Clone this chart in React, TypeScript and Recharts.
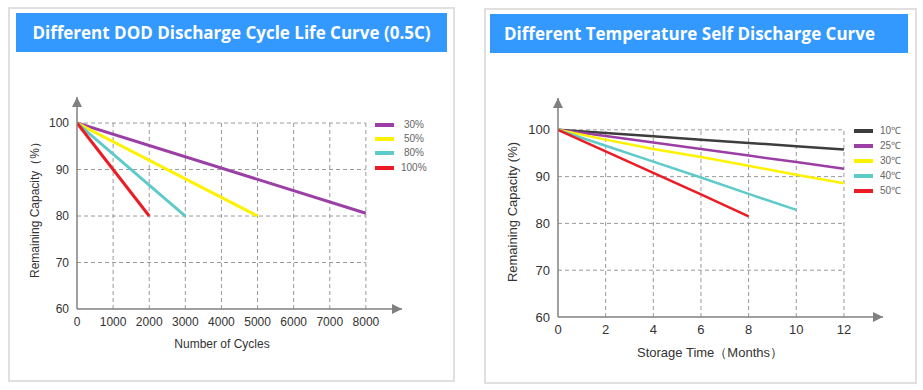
import React from 'react';
import { LineChart, Line, XAxis, YAxis, ReferenceLine, ReferenceDot } from 'recharts';

// left chart: cycle life by depth of discharge
const dodLabels = ['30%', '50%', '80%', '100%'];
const dodColors = ['#9b3fa6', '#fff200', '#5fcaca', '#ec1c24'];
const dodEndCycles = [8000, 5000, 3000, 2000];
const dodEndCapacity = [80.6, 80, 80, 80];
const cycleTicks = [0, 1000, 2000, 3000, 4000, 5000, 6000, 7000, 8000];
const capacityTicks = [60, 70, 80, 90, 100];

// right chart: self discharge by temperature
const tempLabels = ['10℃', '25℃', '30℃', '40℃', '50℃'];
const tempColors = ['#3d3d3d', '#9b3fa6', '#fff200', '#5fcaca', '#ec1c24'];
const months = [0, 2, 4, 6, 8, 10, 12];
const temp10 = [100, 99.3, 98.6, 97.9, 97.2, 96.5, 95.8];
const temp25 = [100, 98.7, 97.3, 95.9, 94.5, 93.1, 91.7];
const temp30 = [100, 97.9, 95.9, 94.2, 92.3, 90.4, 88.6];
const temp40 = [100, 96.6, 93.2, 89.8, 86.3, 82.9];
const temp50 = [100, 95.4, 90.8, 86.2, 81.5];
const monthTicks = [0, 2, 4, 6, 8, 10, 12];

const START_CAPACITY = 100;

const dodSeries = dodLabels.map((name, i) => ({
  name,
  color: dodColors[i],
  data: [
    { x: 0, y: START_CAPACITY },
    { x: dodEndCycles[i], y: dodEndCapacity[i] },
  ],
}));

const tempSeries = [temp10, temp25, temp30, temp40, temp50].map((vals, i) => ({
  name: tempLabels[i],
  color: tempColors[i],
  data: vals.map((y, j) => ({ x: months[j], y })),
}));

const AXIS = '#808080';
const GRID = '#9a9a9a';
const FONT = '"Liberation Sans", Arial, sans-serif';
const tickStyle = { fontSize: 12, fill: '#333', fontFamily: FONT };

const ArrowRight = (p: any) => (
  <path d={`M${p.cx},${p.cy} L${p.cx - 10},${p.cy - 5} L${p.cx - 10},${p.cy + 5} Z`} fill={AXIS} />
);
const ArrowUp = (p: any) => (
  <path d={`M${p.cx},${p.cy} L${p.cx - 5},${p.cy + 10} L${p.cx + 5},${p.cy + 10} Z`} fill={AXIS} />
);

function gridLines(xTicks: number[], yTicks: number[], xMax: number, yMin: number, yMax: number) {
  const out: React.ReactNode[] = [];
  yTicks
    .filter((v) => v > yMin)
    .forEach((v) =>
      out.push(
        <ReferenceLine
          key={'h' + v}
          segment={[{ x: 0, y: v }, { x: xMax, y: v }]}
          stroke={GRID}
          strokeDasharray="4 3"
        />
      )
    );
  xTicks
    .filter((v) => v > 0)
    .forEach((v) =>
      out.push(
        <ReferenceLine
          key={'v' + v}
          segment={[{ x: v, y: yMin }, { x: v, y: yMax }]}
          stroke={GRID}
          strokeDasharray="4 3"
        />
      )
    );
  return out;
}

function Legend({ items, left, top, gap, textAlign }: any) {
  return (
    <div style={{ position: 'absolute', left, top }}>
      {items.map((s: any, i: number) => (
        <div key={s.name} style={{ position: 'absolute', top: i * gap, left: 0, width: 60, height: 14 }}>
          <div style={{ position: 'absolute', left: 0, top: 5, width: 19, height: 4, background: s.color }} />
          <div
            style={{
              position: 'absolute',
              left: 26,
              top: 0,
              width: textAlign === 'right' ? 23 : 40,
              textAlign,
              fontSize: 10,
              lineHeight: '14px',
              color: '#666',
            }}
          >
            {s.name}
          </div>
        </div>
      ))}
    </div>
  );
}

const panel: React.CSSProperties = {
  position: 'absolute',
  border: '2px solid #e0e0e0',
  boxSizing: 'border-box',
  background: '#fff',
};
const header: React.CSSProperties = {
  position: 'absolute',
  height: 39,
  background: '#3399ff',
  color: '#fff',
  fontWeight: 700,
  fontSize: 17,
  lineHeight: '39px',
  fontFamily: '"Open Sans", sans-serif',
  whiteSpace: 'nowrap',
};
const axisTitle: React.CSSProperties = {
  position: 'absolute',
  fontSize: 12,
  color: '#333',
  whiteSpace: 'nowrap',
};

export default function App() {
  return (
    <div style={{ position: 'absolute', left: 0, top: 0, width: 923, height: 390, background: '#fff', fontFamily: FONT }}>
      <div style={{ ...panel, left: 8, top: 7, width: 447, height: 375 }} />
      <div style={{ ...panel, left: 484, top: 8, width: 433, height: 376 }} />
      <div style={{ ...header, left: 16, top: 13, width: 431, textAlign: 'center' }}>
        Different DOD Discharge Cycle Life Curve (0.5C)
      </div>
      <div style={{ ...header, left: 490, top: 14, width: 404, paddingLeft: 14 }}>
        Different Temperature Self Discharge Curve
      </div>

      <div style={{ position: 'absolute', left: 0, top: 0 }}>
        <LineChart width={460} height={390} margin={{ top: 97, right: 58, bottom: 51, left: 37 }}>
          <XAxis
            dataKey="x"
            type="number"
            domain={[0, 9000]}
            ticks={cycleTicks}
            allowDataOverflow
            height={30}
            tickLine={false}
            axisLine={{ stroke: AXIS, strokeWidth: 1.5 }}
            tick={tickStyle}
            interval={0}
          />
          <YAxis
            type="number"
            domain={[60, 105.6]}
            ticks={capacityTicks}
            allowDataOverflow
            width={40}
            tickLine={false}
            axisLine={{ stroke: AXIS, strokeWidth: 1.5 }}
            tick={tickStyle}
            interval={0}
          />
          {gridLines(cycleTicks, capacityTicks, 8000, 60, 100)}
          {dodSeries.map((s) => (
            <Line
              key={s.name}
              data={s.data}
              dataKey="y"
              name={s.name}
              stroke={s.color}
              strokeWidth={3}
              dot={false}
              type="linear"
              isAnimationActive={false}
            />
          ))}
          <ReferenceDot x={9000} y={60} r={0} ifOverflow="visible" shape={ArrowRight} />
          <ReferenceDot x={0} y={105.6} r={0} ifOverflow="visible" shape={ArrowUp} />
        </LineChart>
      </div>

      <div style={{ position: 'absolute', left: 460, top: 0 }}>
        <LineChart width={463} height={390} margin={{ top: 98, right: 40, bottom: 43, left: 58 }}>
          <XAxis
            dataKey="x"
            type="number"
            domain={[0, 13.64]}
            ticks={monthTicks}
            allowDataOverflow
            height={30}
            tickLine={false}
            axisLine={{ stroke: AXIS, strokeWidth: 1.5 }}
            tick={{ ...tickStyle, fontSize: 13 }}
            interval={0}
          />
          <YAxis
            type="number"
            domain={[60, 106.8]}
            ticks={capacityTicks}
            allowDataOverflow
            width={40}
            tickLine={false}
            axisLine={{ stroke: AXIS, strokeWidth: 1.5 }}
            tick={{ ...tickStyle, fontSize: 13 }}
            interval={0}
          />
          {gridLines(monthTicks, capacityTicks, 12, 60, 100)}
          {tempSeries.map((s) => (
            <Line
              key={s.name}
              data={s.data}
              dataKey="y"
              name={s.name}
              stroke={s.color}
              strokeWidth={2.5}
              dot={false}
              type="linear"
              isAnimationActive={false}
            />
          ))}
          <ReferenceDot x={13.64} y={60} r={0} ifOverflow="visible" shape={ArrowRight} />
          <ReferenceDot x={0} y={106.8} r={0} ifOverflow="visible" shape={ArrowUp} />
        </LineChart>
      </div>

      <div style={{ ...axisTitle, left: 35, top: 207, transform: 'translate(-50%, -50%) rotate(-90deg)' }}>
        Remaining Capacity（%）
      </div>
      <div style={{ ...axisTitle, left: 222, top: 344, transform: 'translate(-50%, -50%)' }}>Number of Cycles</div>
      <div style={{ ...axisTitle, fontSize: 13, left: 512, top: 212, transform: 'translate(-50%, -50%) rotate(-90deg)' }}>
        Remaining Capacity (%)
      </div>
      <div style={{ ...axisTitle, fontSize: 13, left: 710, top: 353, transform: 'translate(-50%, -50%)' }}>
        Storage Time（Months）
      </div>

      <Legend items={dodSeries} left={375} top={118} gap={14.2} textAlign="right" />
      <Legend items={tempSeries} left={854} top={124} gap={15} textAlign="left" />
    </div>
  );
}
